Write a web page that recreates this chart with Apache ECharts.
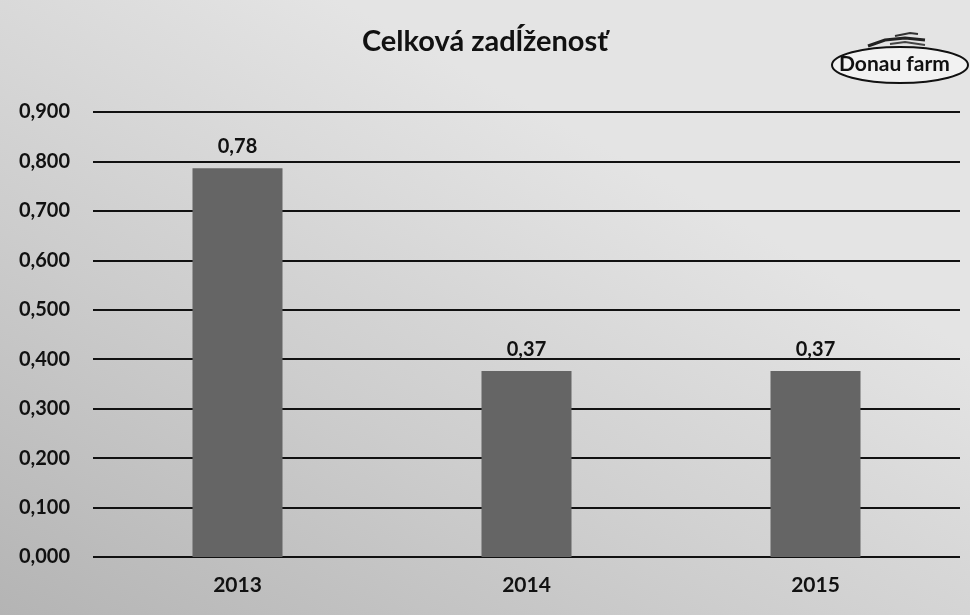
<!DOCTYPE html>
<html><head><meta charset="utf-8">
<script src="https://cdn.jsdelivr.net/npm/echarts@6/dist/echarts.min.js"></script>
<style>html,body{margin:0;padding:0;background:#fff}#c{width:970px;height:615px}</style>
</head><body><div id="c"></div>
<script>
const categories = ["2013", "2014", "2015"];
const values = [0.786, 0.376, 0.376];
const valueLabels = ["0,78", "0,37", "0,37"];
const titleText = "Celková zadĺženosť";
const logoText = "Donau farm";

const chart = echarts.init(document.getElementById('c'));
const FONT = "Lato, 'Open Sans', sans-serif";
chart.setOption({
  animation: false,
  backgroundColor: new echarts.graphic.LinearGradient(0.35, 0, 0, 1, [
    {offset: 0, color: '#e4e4e4'},
    {offset: 0.5, color: '#cdcdcd'},
    {offset: 1, color: '#b4b4b4'}
  ]),
  title: {
    text: titleText, left: 'center', top: 22,
    textStyle: {fontFamily: FONT, fontWeight: 'bold', fontSize: 29, color: '#111'}
  },
  graphic: [
    {type: 'ellipse', shape: {cx: 900, cy: 65, rx: 68, ry: 18},
     style: {fill: 'rgba(255,255,255,0.5)', stroke: '#111', lineWidth: 2}},
    {type: 'text', left: 839, top: 54,
     style: {text: logoText, fontFamily: FONT, fontWeight: 'bold', fontSize: 21, fill: '#111'}},
    {type: 'polyline', shape: {points: [[868,46],[885,40],[905,38],[925,40]]},
     style: {stroke: '#222', lineWidth: 3, fill: null}},
    {type: 'polyline', shape: {points: [[890,44],[905,42],[925,45]]},
     style: {stroke: '#444', lineWidth: 2, fill: null}},
    {type: 'polyline', shape: {points: [[895,36],[910,33],[918,34]]},
     style: {stroke: '#333', lineWidth: 2, fill: null}}
  ],
  grid: {left: 93, right: 10, top: 112, bottom: 58, containLabel: false},
  xAxis: {
    type: 'category', data: categories,
    axisLine: {show: false}, axisTick: {show: false},
    axisLabel: {margin: 18, fontFamily: FONT, fontWeight: 'bold', fontSize: 21, color: '#111'}
  },
  yAxis: {
    type: 'value', min: 0, max: 0.9, interval: 0.1,
    axisLine: {show: false}, axisTick: {show: false},
    axisLabel: {margin: 23, fontFamily: FONT, fontWeight: 'bold', fontSize: 20, color: '#111',
      formatter: v => v.toFixed(3).replace('.', ',')},
    splitLine: {lineStyle: {color: '#111', width: 2}}
  },
  series: [{
    type: 'bar', data: values, barWidth: 90,
    itemStyle: {color: '#656565'},
    label: {show: true, position: 'top', distance: 12,
      fontFamily: FONT, fontWeight: 'bold', fontSize: 20, color: '#111',
      formatter: p => valueLabels[p.dataIndex]}
  }]
});
</script></body></html>
